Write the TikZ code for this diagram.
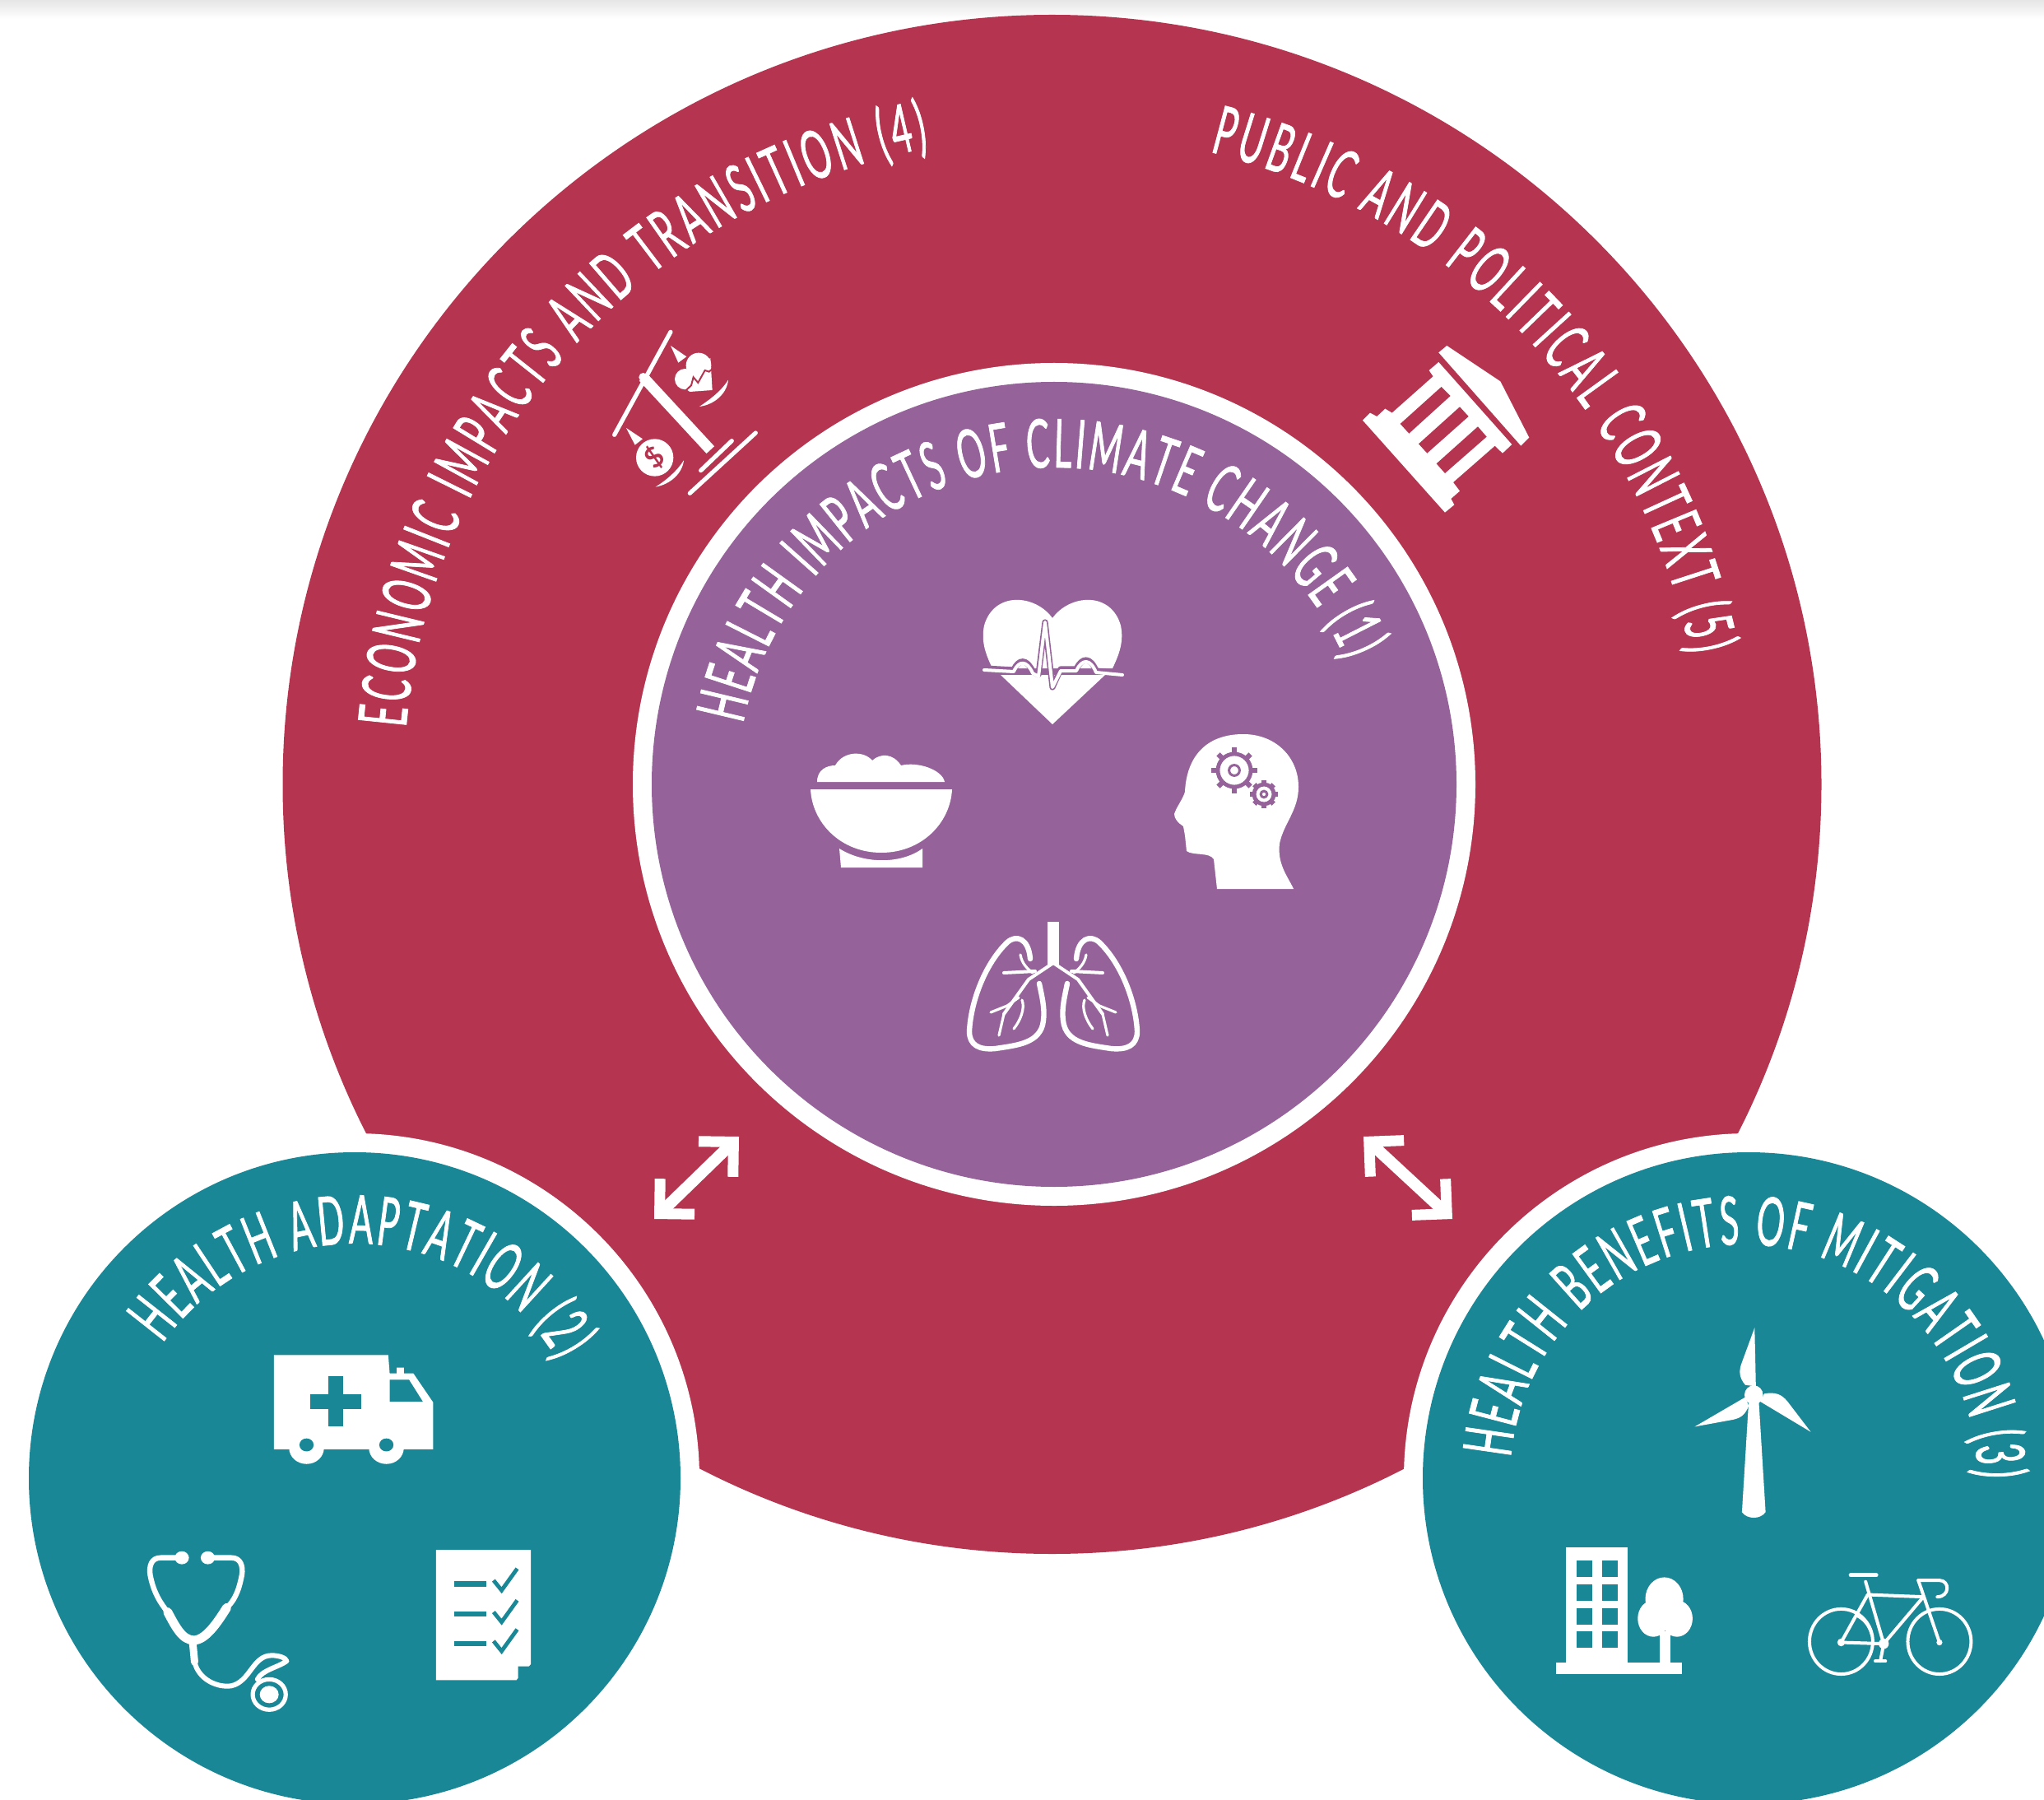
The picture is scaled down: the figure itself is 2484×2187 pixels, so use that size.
\documentclass[tikz,border=0pt]{standalone}
\usepackage{fontspec}
\usetikzlibrary{arrows.meta,decorations.text}
\newfontfamily\capsfont[FakeStretch=0.52,FakeBold=0.9]{Lato}
\newfontfamily\coinfont{Lato}
\definecolor{crimson}{HTML}{B5344F}
\definecolor{plum}{HTML}{96629A}
\definecolor{lagoon}{HTML}{198795}
\newcommand\bigcaps{\capsfont\fontsize{41}{41}\selectfont}
\newcommand\cogwheel[3]{%
  \draw[plum,line width=2.4pt] (#1,#2) circle[radius=#3];
  \foreach \a in {0,45,...,315}{\draw[plum,line width=3pt] (#1,#2) ++(\a:#3) -- ++(\a:{#3*0.38});}
  \draw[plum,line width=1.5pt] (#1,#2) circle[radius={#3*0.32}];}
\newcommand\arclabel[6]{%
  \path[decorate,decoration={text along path,text color=white,text align={fit to path},
     text={|\bigcaps|#6}}]
     (#1,#2) ++(#4:#3) arc[start angle=#4,end angle=#5,radius=#3];}
\tikzset{
  disc/.style={circle,inner sep=0pt,outer sep=0pt,draw=none},
  icon/.style={fill=white,draw=none},
  iconline/.style={draw=white,line width=#1,line cap=round,line join=round},
  iconline/.default=2.5pt,
  dbl/.style={draw=white,line width=7pt,{Straight Barb[length=15pt,width=30pt,line width=6.5pt]}-{Straight Barb[length=15pt,width=30pt,line width=6.5pt]}}
}
\begin{document}
\begin{tikzpicture}[x=0.5pt,y=-0.5pt]
\useasboundingbox (0,0) rectangle (2484,2187);
\clip (0,0) rectangle (2484,2187);
\shade[top color=black!10,bottom color=white] (0,0) rectangle (2484,23);
% discs
\node[disc,fill=crimson,minimum size=935pt] (outer) at (1278.5,953) {};
\node[disc,fill=white,minimum size=419pt] (leftring) at (431,1796) {};
\node[disc,fill=lagoon,minimum size=396pt] (left) at (431,1796) {};
\node[disc,fill=white,minimum size=419pt] (rightring) at (2125,1796) {};
\node[disc,fill=lagoon,minimum size=396pt] (right) at (2125,1796) {};
\node[disc,fill=white,minimum size=512pt] (corering) at (1281,953) {};
\node[disc,fill=plum,minimum size=489pt] (core) at (1281,953) {};
% arrows
\coordinate (la) at (795,1481);
\coordinate (lb) at (898,1381);
\coordinate (ra) at (1657,1381);
\coordinate (rb) at (1765,1481);
\draw[dbl] (la) -- (lb);
\draw[dbl] (ra) -- (rb);
% labels
\arclabel{1278.5}{953}{788}{-175}{-101}{ECONOMIC IMPACTS AND TRANSITION (4)}
\arclabel{1278.5}{953}{792}{-76}{-11.5}{PUBLIC AND POLITICAL CONTEXT (5)}
\arclabel{1281}{953}{385}{-169}{-23}{HEALTH IMPACTS OF CLIMATE CHANGE (1)}
\arclabel{431}{1796}{285}{-145}{-30}{HEALTH ADAPTATION (2)}
\arclabel{2119}{1796}{284}{-175}{0}{HEALTH BENEFITS OF MITIGATION (3)}
% heart
\fill[icon] (1279,751) .. controls (1300,722) and (1350,718) .. (1362,760) .. controls (1366,780) and (1360,795) .. (1352,812) -- (1206,812) .. controls (1198,795) and (1192,780) .. (1196,760) .. controls (1208,718) and (1258,722) .. (1279,751) -- cycle;
\fill[icon] (1216,820) -- (1279,880) -- (1343,820) -- cycle;
\draw[plum,line width=3.6pt,line join=round] (1196,812) -- (1232,814) .. controls (1238,800) and (1248,800) .. (1255,816) -- (1262,820) -- (1270,756) -- (1279,835) -- (1289,813) -- (1308,813) .. controls (1315,798) and (1325,798) .. (1332,815) -- (1364,818);
\draw[iconline=2pt] (1196,814) -- (1232,816) .. controls (1238,802) and (1248,802) .. (1255,818) -- (1262,822) -- (1270,756) -- (1279,835) -- (1289,815) -- (1308,815) .. controls (1315,800) and (1325,800) .. (1332,817) -- (1364,820);
% bowl
\fill[icon] (993,950) .. controls (993,935) and (1005,930) .. (1015,930) .. controls (1025,912) and (1050,912) .. (1060,924) .. controls (1070,915) and (1085,915) .. (1095,930) .. controls (1115,925) and (1145,935) .. (1148,950) -- cycle;
\fill[icon] (985,959) -- (1157,959) .. controls (1155,1000) and (1120,1036) .. (1071,1036) .. controls (1022,1036) and (987,1000) .. (985,959) -- cycle;
\fill[icon] (1020,1031) .. controls (1050,1050) and (1095,1050) .. (1121,1031) -- (1121,1054) -- (1022,1054) -- cycle;
% head
\fill[icon] (1511,892) .. controls (1550,892) and (1578,920) .. (1578,956) .. controls (1578,985) and (1560,1000) .. (1555,1025) .. controls (1552,1050) and (1565,1065) .. (1572,1080) -- (1479,1080) -- (1475,1044) .. controls (1470,1035) and (1450,1040) .. (1442,1034) -- (1440,1015) -- (1438,1004) .. controls (1432,1000) and (1427,995) .. (1427,989) .. controls (1430,980) and (1438,970) .. (1440,962) .. controls (1442,920) and (1465,892) .. (1511,892) -- cycle;
\cogwheel{1500}{936}{20}
\cogwheel{1536}{965}{12}
% lungs
\foreach \s in {1,-1}{
\begin{scope}[shift={(1280,0)},xscale=\s]
\draw[iconline=3.2pt] (-28,1165) .. controls (-30,1140) and (-45,1135) .. (-56,1145) .. controls (-82,1170) and (-100,1215) .. (-102,1253) .. controls (-102,1270) and (-90,1276) .. (-70,1274) .. controls (-45,1270) and (-15,1268) .. (-12,1240) .. controls (-10,1225) and (-14,1210) .. (-17,1195);
\draw[iconline=2pt] (0,1170) -- (-30,1190) -- (-60,1232);
\draw[iconline=2pt] (-22,1180) -- (-60,1182);
\draw[iconline=1.6pt] (-40,1160) .. controls (-38,1172) and (-30,1178) .. (-25,1182);
\draw[iconline=1.6pt] (-42,1212) -- (-56,1222) -- (-76,1230);
\draw[iconline=1.6pt] (-60,1232) -- (-66,1258);
\draw[iconline=1.6pt] (-38,1215) .. controls (-34,1225) and (-40,1240) .. (-48,1250);
\end{scope}}
\fill[icon] (1273,1120) rectangle (1287,1172);
% scales
\begin{scope}[shift={(700,370)},scale=0.3333]
\draw[iconline=2.6pt] (345,100) -- (140,475);
\draw[iconline=6.5pt,line cap=butt] (245,265) -- (490,530);
\fill[icon] (245,265) circle[radius=16];
\draw[iconline=2.6pt] (455,605) -- (568,497);
\draw[iconline=2.6pt] (415,688) -- (655,468);
\fill[icon] (450,372) .. controls (505,365) and (550,325) .. (555,275) .. controls (530,315) and (490,345) .. (450,372) -- cycle;
\fill[icon] (290,665) .. controls (345,655) and (388,615) .. (393,568) .. controls (370,605) and (330,640) .. (290,665) -- cycle;
\fill[icon] (345,150) -- (403,190) -- (373,212) -- cycle;
\fill[icon] (183,450) -- (243,490) -- (215,512) -- cycle;
\fill[icon] (287,558) circle[radius=68];
\node[rotate=40,text=crimson,inner sep=0pt,font=\coinfont\bfseries\fontsize{17}{17}\selectfont] (dollar) at (287,558) {\$};
\fill[icon] (447,222) circle[radius=46];
\fill[icon] (398,272) circle[radius=38];
\fill[icon] (490,195) -- (497,312) -- (415,318) -- (375,290) -- cycle;
\draw[crimson,line width=1pt] (393,320) -- (420,295) -- (428,265) -- (445,285) -- (470,240) -- (485,245) -- (515,220);
\end{scope}
% temple
\begin{scope}[shift={(1630,400)},scale=0.3333]
\fill[icon] (385,60) -- (355,85) -- (655,425) -- (685,395) -- (580,190) -- cycle;
\fill[icon] (355,120) -- (320,150) -- (335,172) -- (185,305) -- (160,290) -- (130,318) -- (105,305) -- (78,332) -- (378,668) -- (412,640) -- (400,618) -- (432,590) -- (408,558) -- (560,425) -- (588,452) -- (622,420) -- cycle;
\fill[crimson] (365,210) -- (398,243) -- (247,380) -- (215,345) -- cycle;
\fill[crimson] (432,283) -- (464,318) -- (313,452) -- (282,418) -- cycle;
\fill[crimson] (498,355) -- (530,392) -- (378,525) -- (347,490) -- cycle;
\end{scope}
% left teal icons
\begin{scope}[shift={(0,1360)},xscale=0.574,yscale=0.5274]
\fill[icon] (580,543) -- (822,543) -- (825,585) -- (840,585) -- (840,572) -- (855,572) -- (855,585) -- (875,585) -- (917,652) -- (917,760) -- (580,760) -- cycle;
\fill[icon] (649,757) circle[radius=37];
\fill[icon] (818,757) circle[radius=37];
\fill[lagoon] (649,750) circle[radius=15];
\fill[lagoon] (818,750) circle[radius=15];
\fill[lagoon] (825,600) -- (866,600) -- (895,650) -- (825,650) -- cycle;
\fill[lagoon] (695,592) rectangle (727,708);
\fill[lagoon] (657,634) rectangle (765,668);
\fill[icon] (923,992) -- (1124,992) -- (1124,1255) -- (1093,1292) -- (923,1292) -- cycle;
\fill[lagoon] (1097,1260) -- (1122,1260) -- (1097,1290) -- cycle;
\foreach \y in {1070,1140,1208}{\fill[lagoon] (962,\y-6) rectangle (1030,\y+6);}
\foreach \y in {1062,1135,1202}{\draw[lagoon,line width=2.4pt] (1045,\y) -- (1062,\y+23) -- (1095,\y-27);}
\fill[icon] (385,1010) circle[radius=15];
\fill[icon] (440,1010) circle[radius=15];
\draw[iconline=3.2pt] (385,1010) -- (340,1010) .. controls (320,1010) and (315,1030) .. (318,1050) .. controls (325,1090) and (340,1115) .. (355,1135);
\draw[iconline=3.2pt] (440,1010) -- (490,1010) .. controls (510,1010) and (515,1030) .. (512,1050) .. controls (505,1090) and (495,1110) .. (480,1125);
\draw[iconline=5.5pt] (355,1135) .. controls (370,1165) and (385,1200) .. (410,1200) .. controls (435,1200) and (460,1160) .. (480,1125);
\draw[iconline=4.5pt] (408,1205) -- (412,1250);
\draw[iconline=3pt] (412,1250) .. controls (420,1290) and (460,1310) .. (490,1305) .. controls (530,1295) and (535,1235) .. (575,1235) .. controls (590,1235) and (605,1240) .. (607,1248) .. controls (590,1262) and (555,1268) .. (545,1290);
\draw[iconline=2.6pt] (570,1325) circle[radius=35];
\fill[icon] (570,1325) circle[radius=20];
\end{scope}
% right teal icons
\begin{scope}[shift={(1680,1360)},xscale=0.5128,yscale=0.5274]
\fill[icon] (868,650) -- (892,650) -- (908,905) .. controls (895,922) and (865,922) .. (852,905) -- cycle;
\fill[icon] (880,635) circle[radius=22];
\fill[icon] (882,480) -- (885,615) -- (860,612) .. controls (845,595) and (845,580) .. (850,565) -- cycle;
\fill[icon] (740,708) -- (860,640) -- (868,660) .. controls (860,680) and (850,688) .. (830,692) -- cycle;
\fill[icon] (1015,720) -- (895,650) -- (905,632) .. controls (930,628) and (945,632) .. (960,650) -- cycle;
\fill[icon] (435,985) rectangle (582,1255);
\fill[icon] (412,1252) rectangle (710,1278);
\fill[icon] (658,1180) rectangle (682,1255);
\fill[icon] (668,1105) ellipse[x radius=45,y radius=50];
\fill[icon] (642,1150) ellipse[x radius=37,y radius=42];
\fill[icon] (698,1150) ellipse[x radius=37,y radius=42];
\foreach \yy in {1016,1072,1126,1180}{
  \fill[lagoon] (460,\yy) rectangle (497,\yy+38);
  \fill[lagoon] (520,\yy) rectangle (557,\yy+38);}
\draw[iconline=2pt] (1087,1203) circle[radius=75];
\draw[iconline=2pt] (1320,1203) circle[radius=75];
\draw[iconline=2pt] (1087,1205) -- (1150,1095) -- (1282,1100) -- (1188,1208) -- cycle;
\draw[iconline=2pt] (1145,1065) -- (1188,1208);
\draw[iconline=2pt] (1270,1062) -- (1320,1205);
\draw[iconline=2pt] (1270,1062) -- (1320,1062) .. controls (1345,1062) and (1345,1100) .. (1315,1100);
\draw[iconline=2.6pt] (1110,1050) -- (1170,1050);
\draw[iconline=2pt] (1188,1208) -- (1180,1248);
\draw[iconline=2pt] (1168,1248) -- (1192,1248);
\draw[iconline=1.6pt] (1127,1145) .. controls (1145,1155) and (1155,1170) .. (1160,1190);
\fill[icon] (1087,1205) circle[radius=9];
\fill[icon] (1188,1208) circle[radius=12];
\fill[icon] (1320,1205) circle[radius=7];
\end{scope}
\end{tikzpicture}
\end{document}
